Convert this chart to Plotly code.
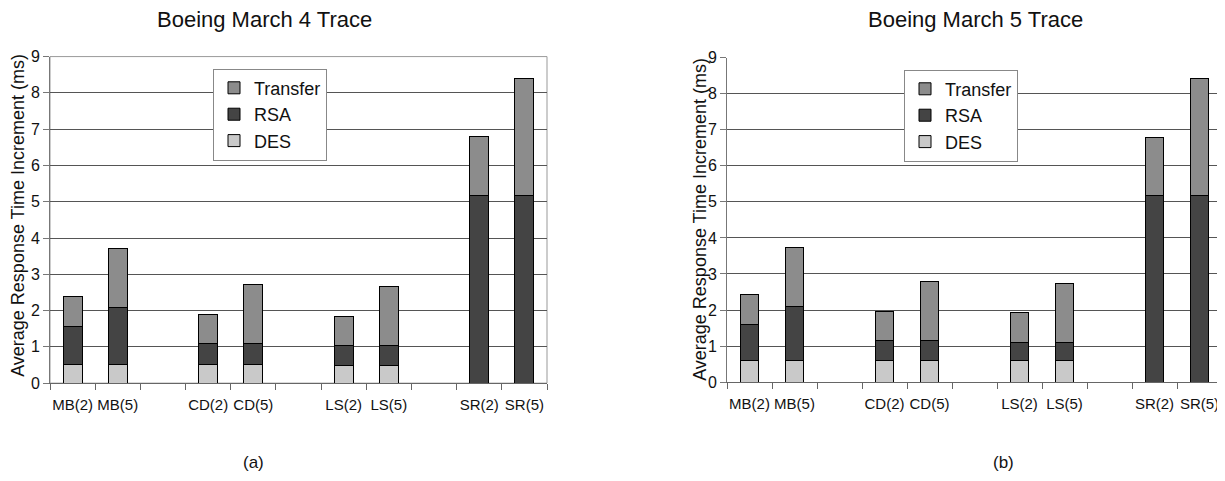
import plotly.graph_objects as go

categories = ["MB(2)", "MB(5)", " ", "CD(2)", "CD(5)", "  ", "LS(2)", "LS(5)", "   ", "SR(2)", "SR(5)"]
bar_cats = ["MB(2)", "MB(5)", "CD(2)", "CD(5)", "LS(2)", "LS(5)", "SR(2)", "SR(5)"]

# Boeing March 4 (segment sizes)
m4_des = [0.52, 0.52, 0.52, 0.52, 0.50, 0.50, 0.0, 0.0]
m4_rsa = [1.05, 1.57, 0.57, 0.57, 0.54, 0.54, 5.16, 5.16]
m4_transfer = [0.82, 1.62, 0.81, 1.62, 0.81, 1.62, 1.63, 3.24]

# Boeing March 5
m5_des = [0.60, 0.60, 0.60, 0.60, 0.60, 0.60, 0.0, 0.0]
m5_rsa = [1.01, 1.51, 0.55, 0.55, 0.50, 0.50, 5.17, 5.17]
m5_transfer = [0.81, 1.62, 0.82, 1.63, 0.83, 1.64, 1.62, 3.24]

titles = ["Boeing March 4 Trace", "Boeing March 5 Trace"]
sublabels = ["(a)", "(b)"]
y_title = "Average Response Time Increment (ms)"

colors = {"DES": "#c9c9c9", "RSA": "#444444", "Transfer": "#8c8c8c"}
FONT = "Liberation Sans, Arial, sans-serif"

W, H = 1225, 481
fig = go.Figure()

datasets = [
    (m4_des, m4_rsa, m4_transfer, "x", "y", "legend"),
    (m5_des, m5_rsa, m5_transfer, "x2", "y2", "legend2"),
]
for des, rsa, tr, xa, ya, lg in datasets:
    for name, vals in [("DES", des), ("RSA", rsa), ("Transfer", tr)]:
        fig.add_trace(go.Bar(
            x=bar_cats, y=vals, name=name, xaxis=xa, yaxis=ya, legend=lg,
            marker=dict(color=colors[name], line=dict(color="#000000", width=1)),
        ))

# pixel positions -> paper fractions (vertical positions corrected for the
# vertical squeeze observed in the rendered screenshot)
px = lambda v: min(max(v / W, 0), 1)
def py(v):
    page_y = (v - 8.5) / 0.963
    return min(max((H - page_y) / H, 0), 1)

axis_common = dict(
    type="category", categoryorder="array", categoryarray=categories,
    tickson="boundaries", ticks="outside", ticklen=6, tickcolor="#666666",
    showline=True, linecolor="#666666", linewidth=1, showgrid=False,
    tickangle=0, ticklabelstandoff=8,
    tickfont=dict(family=FONT, size=15, color="#111111"), fixedrange=True,
)
yaxis_common = dict(
    range=[0, 9], dtick=1, showgrid=True, gridcolor="#555555", gridwidth=1,
    showline=True, linecolor="#777777", linewidth=1, ticks="outside", ticklen=6,
    tickcolor="#777777", zeroline=False,
    tickfont=dict(family=FONT, size=16, color="#111111"), fixedrange=True,
)

legend_common = dict(
    bgcolor="white", bordercolor="#888888", borderwidth=1,
    font=dict(family=FONT, size=18, color="#111111"),
    traceorder="reversed", xanchor="left", yanchor="top",
    itemwidth=30, tracegroupgap=0,
)

fig.update_layout(
    autosize=True, margin=dict(l=0, r=0, t=0, b=0),
    paper_bgcolor="white", plot_bgcolor="white",
    barmode="stack", bargap=0.58,
    font=dict(family=FONT, color="#111111"),
    xaxis=dict(domain=[px(50), px(547)], anchor="y", **axis_common),
    yaxis=dict(domain=[py(383), py(57)], anchor="x", **yaxis_common),
    xaxis2=dict(domain=[px(727), px(1222)], anchor="y2", **axis_common),
    yaxis2=dict(domain=[py(382), py(58)], anchor="x2", **yaxis_common),
    legend=dict(x=px(213), y=py(69), **legend_common),
    legend2=dict(x=px(904), y=py(70), **legend_common),
)

# light frame around the left plot area
fig.add_shape(type="rect", xref="paper", yref="paper",
              x0=px(50), x1=px(547), y0=py(383), y1=py(57),
              line=dict(color="#999999", width=1), layer="below")

for i, (t, s) in enumerate(zip(titles, sublabels)):
    fig.add_annotation(text=t, x=px([264, 975][i]), y=py(20), xref="paper", yref="paper",
                       xanchor="center", yanchor="middle", showarrow=False,
                       font=dict(family=FONT, size=22, color="#111111"))
    fig.add_annotation(text=s, x=px([253, 1003][i]), y=py(462), xref="paper", yref="paper",
                       xanchor="center", yanchor="middle", showarrow=False,
                       font=dict(family=FONT, size=17, color="#111111"))
    fig.add_annotation(text=y_title, x=px([18, 700][i]), y=py([216, 220][i]),
                       xref="paper", yref="paper", xanchor="center", yanchor="middle",
                       showarrow=False, textangle=-90,
                       font=dict(family=FONT, size=18, color="#111111"))

# the plot div fills the browser window exactly (negative margin cancels body margin)
fig.write_html("out.html", config={"displayModeBar": False},
               default_width="100vw", default_height="100vh; margin:-8px")
